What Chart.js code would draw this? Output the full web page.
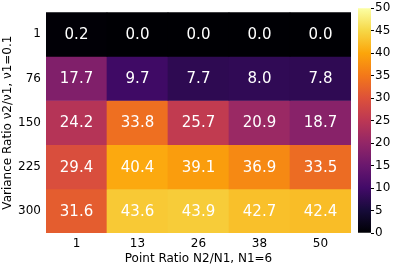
<!DOCTYPE html>
<html>
<head>
<meta charset="utf-8">
<script src="https://cdn.jsdelivr.net/npm/chart.js@4.4.1/dist/chart.umd.min.js"></script>
<style>
  body { margin: 0; background: #fff; }
  #wrap { position: relative; width: 399px; height: 266px; }
  #heat { position: absolute; left: 0; top: 0; }
  #cbar { position: absolute; left: 352px; top: 0; }
</style>
</head>
<body>
<div id="wrap">
  <canvas id="heat" width="352" height="266"></canvas>
  <canvas id="cbar" width="47" height="266"></canvas>
</div>
<script>
// point ratio (columns) and variance ratio (rows)
const xLabels = ['1', '13', '26', '38', '50'];
const yLabels = ['1', '76', '150', '225', '300'];

const row1 = [0.2, 0.0, 0.0, 0.0, 0.0];
const row76 = [17.7, 9.7, 7.7, 8.0, 7.8];
const row150 = [24.2, 33.8, 25.7, 20.9, 18.7];
const row225 = [29.4, 40.4, 39.1, 36.9, 33.5];
const row300 = [31.6, 43.6, 43.9, 42.7, 42.4];
const rows = [row1, row76, row150, row225, row300];

const vmin = 0, vmax = 50;
const cbarTicks = [0, 5, 10, 15, 20, 25, 30, 35, 40, 45, 50];

// inferno colormap, 11 stops
const inferno = ['#000004', '#160b39', '#420a68', '#6a176e', '#932667', '#bc3754',
                 '#dd513a', '#f37819', '#fca50a', '#f6d746', '#fcffa4'];

function hexRgb(h) {
    return [parseInt(h.slice(1, 3), 16), parseInt(h.slice(3, 5), 16), parseInt(h.slice(5, 7), 16)];
}
function colorFor(v) {
    let t = (v - vmin) / (vmax - vmin);
    t = Math.max(0, Math.min(1, t));
    const p = t * (inferno.length - 1);
    const i = Math.min(Math.floor(p), inferno.length - 2);
    const f = p - i;
    const a = hexRgb(inferno[i]), b = hexRgb(inferno[i + 1]);
    const c = a.map((x, k) => Math.round(x + (b[k] - x) * f));
    return `rgb(${c[0]},${c[1]},${c[2]})`;
}

const FONT = 'DejaVu Sans';
Chart.defaults.font.family = FONT;
Chart.defaults.color = '#000';

const datasets = rows.map((vals, r) => ({
    label: yLabels[r],
    data: vals.map((v, c) => ({ x: xLabels[c], y: [r - 0.5, r + 0.5], v: v })),
    backgroundColor: vals.map(v => colorFor(v)),
    borderWidth: 0,
    barPercentage: 1,
    categoryPercentage: 1,
    grouped: false
}));

const cellText = {
    id: 'cellText',
    afterDatasetsDraw(chart) {
        const ctx = chart.ctx;
        const xs = chart.scales.x, ys = chart.scales.y;
        ctx.save();
        ctx.fillStyle = '#fff';
        ctx.font = '15px ' + FONT;
        ctx.textAlign = 'center';
        ctx.textBaseline = 'middle';
        rows.forEach((vals, r) => {
            vals.forEach((v, c) => {
                ctx.fillText(v.toFixed(1), xs.getPixelForValue(c), ys.getPixelForValue(r) + 1);
            });
        });
        ctx.restore();
    }
};

new Chart(document.getElementById('heat'), {
    type: 'bar',
    data: { labels: xLabels, datasets: datasets },
    options: {
        responsive: false,
        animation: false,
        layout: { padding: { top: 8, right: 1, left: 0, bottom: 0 } },
        plugins: { legend: { display: false }, tooltip: { enabled: false } },
        scales: {
            x: {
                type: 'category',
                grid: { display: false, drawTicks: false },
                border: { display: false },
                ticks: { font: { size: 12 }, padding: 4, maxRotation: 0 },
                title: { display: true, text: 'Point Ratio N2/N1, N1=6', font: { size: 12 }, padding: { top: 0, bottom: 0 } },
                afterFit(s) { s.height = 33; }
            },
            y: {
                type: 'linear',
                min: -0.5,
                max: 4.5,
                reverse: true,
                grid: { display: false, drawTicks: false },
                border: { display: false },
                afterBuildTicks(s) { s.ticks = yLabels.map((_, i) => ({ value: i })); },
                ticks: { font: { size: 12 }, padding: 5, callback: (v) => yLabels[v] },
                title: { display: true, text: 'Variance Ratio ν2/ν1, ν1=0.1', font: { size: 12 }, padding: { top: 1, bottom: 0 } },
                afterFit(s) { s.width = 46; }
            }
        }
    },
    plugins: [cellText]
});

// colorbar
new Chart(document.getElementById('cbar'), {
    type: 'bar',
    data: {
        labels: ['c'],
        datasets: [{
            data: [[vmin, vmax]],
            borderWidth: 0,
            barPercentage: 1,
            categoryPercentage: 1,
            backgroundColor(ctx) {
                const ca = ctx.chart.chartArea;
                if (!ca) return '#000';
                const g = ctx.chart.ctx.createLinearGradient(0, ca.bottom, 0, ca.top);
                inferno.forEach((c, i) => g.addColorStop(i / (inferno.length - 1), c));
                return g;
            }
        }]
    },
    options: {
        responsive: false,
        animation: false,
        layout: { padding: { top: 8, left: 6, bottom: 33, right: 0 } },
        plugins: { legend: { display: false }, tooltip: { enabled: false } },
        scales: {
            x: { display: false },
            y: {
                position: 'right',
                min: vmin,
                max: vmax,
                afterBuildTicks(s) { s.ticks = cbarTicks.map(v => ({ value: v })); },
                grid: { display: true, drawOnChartArea: false, tickLength: 3, color: '#000', tickColor: '#000' },
                border: { display: false },
                ticks: { font: { size: 12 }, padding: 1 },
                afterFit(s) { s.width = 28; }
            }
        }
    }
});
</script>
</body>
</html>
